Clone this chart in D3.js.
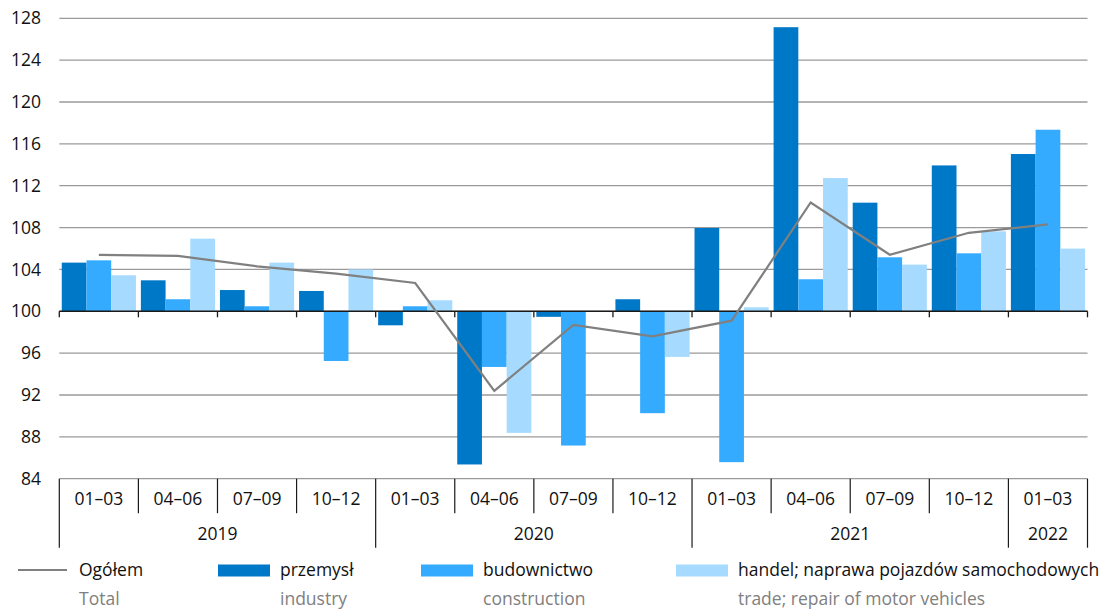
<!DOCTYPE html>
<html>
<head>
<meta charset="utf-8">
<script src="https://cdn.jsdelivr.net/npm/d3@7"></script>
<style>
  body { margin: 0; background: #fff; }
  svg { display: block; font-family: "Open Sans", "Noto Sans", sans-serif; }
</style>
</head>
<body>
<svg id="chart" width="1109" height="609"></svg>
<script>
const quarters = ["01–03","04–06","07–09","10–12","01–03","04–06","07–09","10–12","01–03","04–06","07–09","10–12","01–03"];
const years = [
  {label: "2019", start: 0, end: 4},
  {label: "2020", start: 4, end: 8},
  {label: "2021", start: 8, end: 12},
  {label: "2022", start: 12, end: 13}
];
const total        = [105.4, 105.3, 104.3, 103.6, 102.7, 92.4, 98.7, 97.6, 99.1, 110.4, 105.4, 107.5, 108.3];
const industry     = [104.65, 102.96, 102.03, 101.94, 98.66, 85.36, 99.47, 101.15, 107.96, 127.15, 110.38, 113.94, 115.03];
const construction = [104.87, 101.15, 100.48, 95.25, 100.48, 94.68, 87.17, 90.26, 85.58, 103.06, 105.16, 105.54, 117.35];
const trade        = [103.44, 106.94, 104.65, 104.0, 101.05, 88.38, 100.0, 95.64, 100.38, 112.73, 104.46, 107.64, 105.99];
const yTicks = [84, 88, 92, 96, 100, 104, 108, 112, 116, 120, 124, 128];

const seriesNames = ["industry", "construction", "trade"];
const seriesData = {industry, construction, trade};
const colors = {industry: "#0078c8", construction: "#35abff", trade: "#a6dbff"};

const FS = 17.5;
const svg = d3.select("#chart");
const L = 59.3, R = 1087.5, T = 18.3, B = 478.7;

const x = d3.scaleBand().domain(d3.range(quarters.length)).range([L, R]).paddingInner(0).paddingOuter(0);
const xs = d3.scaleBand().domain(seriesNames).range([0, x.bandwidth()]).paddingInner(0).paddingOuter(0.1);
const y = d3.scaleLinear().domain([84, 128]).range([B, T]);

// gridlines
svg.append("g").selectAll("line").data(yTicks).join("line")
  .attr("x1", L).attr("x2", R)
  .attr("y1", d => y(d)).attr("y2", d => y(d))
  .attr("stroke", "#9a9a9a").attr("stroke-width", 1.3);

// y labels
svg.append("g").selectAll("text").data(yTicks).join("text")
  .attr("x", 41).attr("y", d => y(d)).attr("dy", "0.35em")
  .attr("text-anchor", "end").attr("font-size", FS).attr("fill", "#111")
  .text(d => d);

// bars
const gBars = svg.append("g");
seriesNames.forEach(s => {
  gBars.selectAll("rect." + s).data(seriesData[s]).join("rect")
    .attr("class", s)
    .attr("x", (d, i) => x(i) + xs(s))
    .attr("width", xs.bandwidth())
    .attr("y", d => y(Math.max(d, 100)))
    .attr("height", d => Math.abs(y(d) - y(100)))
    .attr("fill", colors[s]);
});

// 100 axis with ticks
svg.append("line").attr("x1", L).attr("x2", R).attr("y1", y(100)).attr("y2", y(100))
  .attr("stroke", "#1a1a1a").attr("stroke-width", 1.5);
svg.append("g").selectAll("line").data(d3.range(quarters.length + 1)).join("line")
  .attr("x1", i => i < quarters.length ? x(i) : R).attr("x2", i => i < quarters.length ? x(i) : R)
  .attr("y1", y(100)).attr("y2", y(100) + 6)
  .attr("stroke", "#1a1a1a").attr("stroke-width", 1.3);

// total line
const line = d3.line().x((d, i) => x(i) + x.bandwidth() / 2).y(d => y(d));
svg.append("path").datum(total).attr("d", line)
  .attr("fill", "none").attr("stroke", "#808080").attr("stroke-width", 2.2);

// category axis
const catBottom = B + 34.5, yearBottom = B + 69;
svg.append("g").selectAll("line").data(d3.range(1, quarters.length)).join("line")
  .attr("x1", i => x(i)).attr("x2", i => x(i))
  .attr("y1", B).attr("y2", i => years.some(yr => yr.start === i) ? yearBottom : catBottom)
  .attr("stroke", "#1a1a1a").attr("stroke-width", 1.2);
[L, R].forEach(xx => svg.append("line").attr("x1", xx).attr("x2", xx).attr("y1", B).attr("y2", yearBottom)
  .attr("stroke", "#1a1a1a").attr("stroke-width", 1.2));

svg.append("g").selectAll("text").data(quarters).join("text")
  .attr("x", (d, i) => x(i) + x.bandwidth() / 2).attr("y", B + 20).attr("dy", "0.35em")
  .attr("text-anchor", "middle").attr("font-size", FS).attr("fill", "#111")
  .text(d => d);
svg.append("g").selectAll("text").data(years).join("text")
  .attr("x", d => (x(d.start) + (d.end < quarters.length ? x(d.end) : R)) / 2)
  .attr("y", B + 55).attr("dy", "0.35em")
  .attr("text-anchor", "middle").attr("font-size", FS).attr("fill", "#111")
  .text(d => d.label);

// legend
const legend = [
  {type: "line", x: 18, pl: "Ogółem", en: "Total"},
  {type: "bar", key: "industry", x: 218, pl: "przemysł", en: "industry"},
  {type: "bar", key: "construction", x: 421, pl: "budownictwo", en: "construction"},
  {type: "bar", key: "trade", x: 676, pl: "handel; naprawa pojazdów samochodowych", en: "trade; repair of motor vehicles"}
];
const lg = svg.append("g");
legend.forEach(d => {
  if (d.type === "line") {
    lg.append("line").attr("x1", d.x).attr("x2", d.x + 49).attr("y1", 570).attr("y2", 570)
      .attr("stroke", "#808080").attr("stroke-width", 2);
  } else {
    lg.append("rect").attr("x", d.x).attr("y", 564.5).attr("width", 52).attr("height", 12)
      .attr("fill", colors[d.key]);
  }
  const tx = d.type === "line" ? d.x + 61 : d.x + 62;
  lg.append("text").attr("x", tx).attr("y", 570).attr("dy", "0.35em")
    .attr("font-size", FS).attr("fill", "#111").text(d.pl);
  lg.append("text").attr("x", tx).attr("y", 599).attr("dy", "0.35em")
    .attr("font-size", FS).attr("fill", "#808080").text(d.en);
});
</script>
</body>
</html>
